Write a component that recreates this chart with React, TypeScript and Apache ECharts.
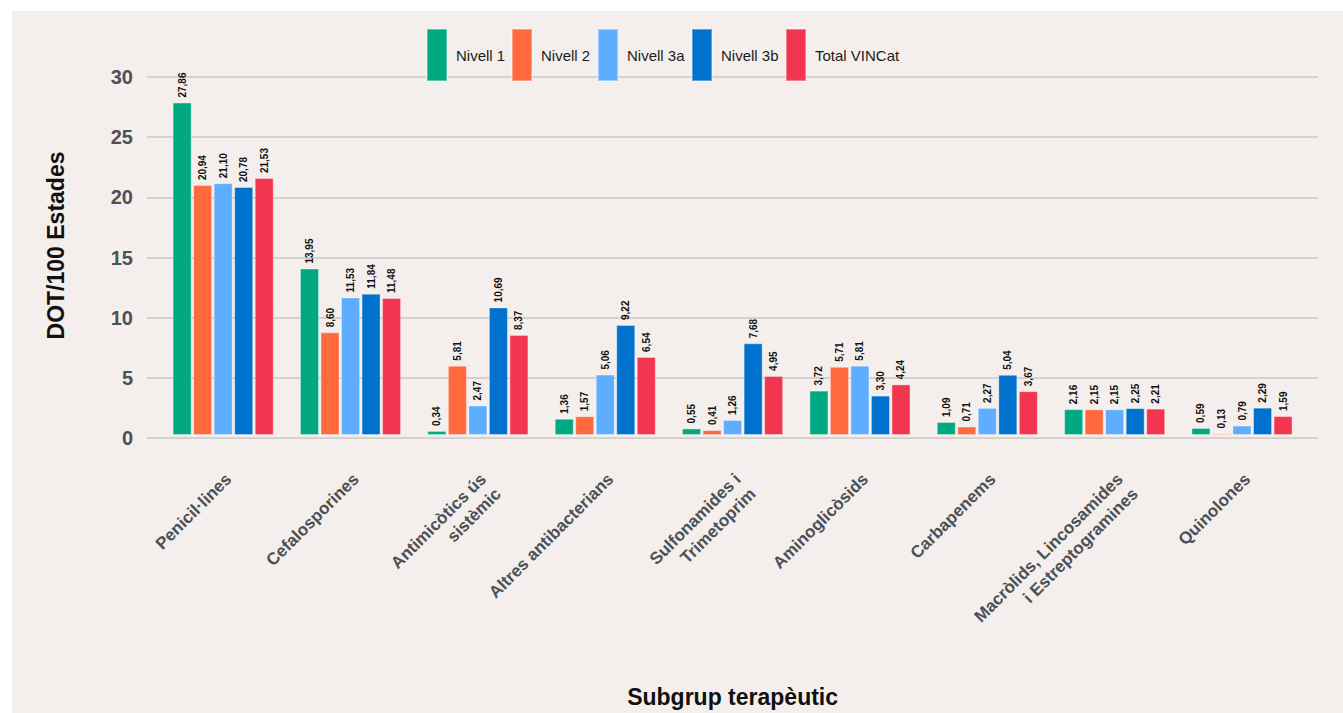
import React, { useEffect, useRef } from "react";
import * as echarts from "echarts";

const categories = [
  "Penicil·lines",
  "Cefalosporines",
  "Antimicòtics ús\nsistèmic",
  "Altres antibacterians",
  "Sulfonamides i\nTrimetoprim",
  "Aminoglicòsids",
  "Carbapenems",
  "Macròlids, Lincosamides\ni Estreptogramines",
  "Quinolones",
];

const seriesNames = ["Nivell 1", "Nivell 2", "Nivell 3a", "Nivell 3b", "Total VINCat"];
const seriesColors = ["#00a981", "#ff693d", "#5eadff", "#0071cd", "#f3364f"];

const nivell1 = [27.86, 13.95, 0.34, 1.36, 0.55, 3.72, 1.09, 2.16, 0.59];
const nivell2 = [20.94, 8.6, 5.81, 1.57, 0.41, 5.71, 0.71, 2.15, 0.13];
const nivell3a = [21.1, 11.53, 2.47, 5.06, 1.26, 5.81, 2.27, 2.15, 0.79];
const nivell3b = [20.78, 11.84, 10.69, 9.22, 7.68, 3.3, 5.04, 2.25, 2.29];
const totalVINCat = [21.53, 11.48, 8.37, 6.54, 4.95, 4.24, 3.67, 2.21, 1.59];

const seriesValues = [nivell1, nivell2, nivell3a, nivell3b, totalVINCat];

const yTicks = [0, 5, 10, 15, 20, 25, 30];

const legendLefts = [414, 499, 585, 679, 773];

export default function App() {
  const ref = useRef<HTMLDivElement>(null);

  useEffect(() => {
    if (!ref.current) return;
    const chart = echarts.init(ref.current, null, { renderer: "svg" });
    const yMin = yTicks[0];
    const yMax = yTicks[yTicks.length - 1];
    const yInterval = yTicks[1] - yTicks[0];
    const gridTop = 66;
    const gridBottom = 275;

    const option: any = {
      animation: false,
      backgroundColor: "#f4efec",
      legend: seriesNames.map((name, i) => ({
        show: true,
        data: [name],
        left: legendLefts[i],
        top: 17,
        itemWidth: 20,
        itemHeight: 52,
        padding: 0,
        icon: "rect",
        textStyle: {
          fontFamily: "'Liberation Sans', Arial, sans-serif",
          fontSize: 15,
          color: "#1b1b1b",
          padding: [0, 0, 0, 4],
        },
      })),
      grid: [
        { left: 135, right: 25, top: gridTop, bottom: gridBottom },
        { left: 147.5, right: 37.3, top: gridTop, bottom: gridBottom },
        { left: 145.5, right: 39.3, top: gridTop, bottom: gridBottom },
      ],
      xAxis: [
        {
          gridIndex: 0,
          type: "value",
          show: false,
        },
        {
          gridIndex: 1,
          type: "category",
          data: categories,
          axisLine: { show: false },
          axisTick: { show: false },
          axisLabel: { show: false },
          name: "Subgrup terapèutic",
          nameLocation: "middle",
          nameGap: 250,
          nameTextStyle: {
            fontFamily: "'Liberation Sans', Arial, sans-serif",
            fontWeight: "bold",
            fontSize: 23,
            color: "#111111",
          },
        },
        {
          gridIndex: 2,
          type: "category",
          data: categories,
          axisLine: { show: false },
          axisTick: { show: false },
          axisLabel: {
            rotate: 45,
            interval: 0,
            margin: 31,
            align: "right",
            verticalAlign: "top",
            fontFamily: "'Liberation Sans', Arial, sans-serif",
            fontWeight: "bold",
            fontSize: 17,
            lineHeight: 21,
            color: "#4b5157",
          },
        },
      ],
      yAxis: [
        {
          gridIndex: 0,
          type: "value",
          min: yMin,
          max: yMax,
          interval: yInterval,
          axisLine: { show: false },
          axisTick: { show: false },
          splitLine: { lineStyle: { color: "#d4d1cf", width: 2 } },
          axisLabel: {
            margin: 14,
            fontFamily: "'Liberation Sans', Arial, sans-serif",
            fontWeight: "bold",
            fontSize: 20,
            color: "#4b5157",
          },
          name: "DOT/100 Estades",
          nameLocation: "middle",
          nameGap: 80,
          nameTextStyle: {
            fontFamily: "'Liberation Sans', Arial, sans-serif",
            fontWeight: "bold",
            fontSize: 23,
            color: "#111111",
            padding: [0, 0, 0, 24],
          },
        },
        {
          gridIndex: 1,
          type: "value",
          min: yMin,
          max: yMax,
          interval: yInterval,
          show: false,
        },
        {
          gridIndex: 2,
          type: "value",
          min: yMin,
          max: yMax,
          interval: yInterval,
          show: false,
        },
      ],
      series: seriesNames.map((name, i) => ({
        name,
        type: "bar",
        xAxisIndex: 1,
        yAxisIndex: 1,
        data: seriesValues[i],
        barWidth: 19,
        barGap: "8%",
        itemStyle: {
          color: seriesColors[i],
          borderColor: "rgba(255,255,255,0.35)",
          borderWidth: 1,
        },
        label: {
          show: true,
          position: "top",
          rotate: 90,
          align: "left",
          verticalAlign: "middle",
          distance: 5,
          fontFamily: "'Liberation Sans', Arial, sans-serif",
          fontWeight: "bold",
          fontSize: 10,
          color: "#111111",
          formatter: (p: any) => Number(p.value).toFixed(2).replace(".", ","),
        },
      })),
    };

    chart.setOption(option);
    return () => {
      chart.dispose();
    };
  }, []);

  return (
    <div
      style={{
        position: "absolute",
        left: 0,
        top: 0,
        width: 1343,
        height: 713,
        background: "#ffffff",
        overflow: "hidden",
      }}
    >
      <div
        ref={ref}
        style={{ position: "absolute", left: 12, top: 11, width: 1331, height: 702 }}
      />
    </div>
  );
}
